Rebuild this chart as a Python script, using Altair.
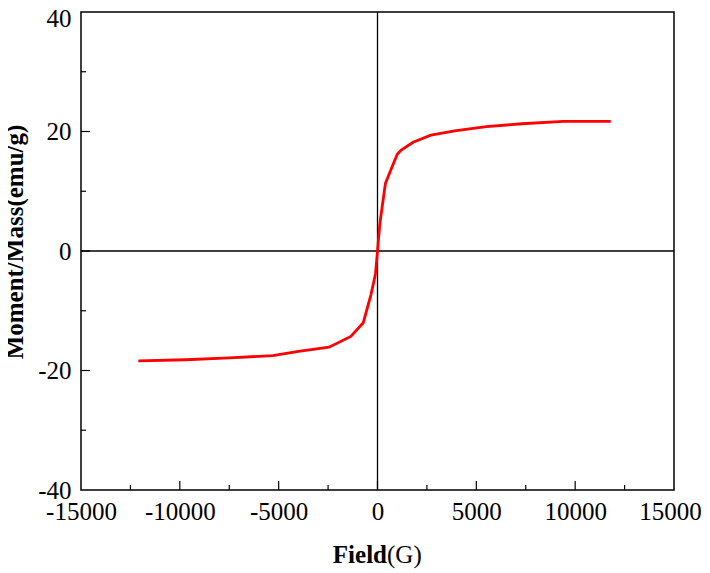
import altair as alt
import pandas as pd

# Data
field = [-12100, -9700, -7500, -5300, -4000, -2450, -1350, -720, -330, -100,
         0, 120, 400, 750, 1000, 1200, 1800, 2700, 3900, 5500, 7300, 9400, 11800]
moment = [-18.4, -18.2, -17.9, -17.5, -16.8, -16.1, -14.3, -12.0, -7.3, -3.8,
          0.0, 4.6, 11.3, 14.2, 16.2, 16.9, 18.2, 19.4, 20.1, 20.8, 21.3, 21.7, 21.7]

x_labels = [-15000, -10000, -5000, 0, 5000, 10000, 15000]
y_labels = [-40, -20, 0, 20, 40]
x_major_ticks = [-10000, -5000, 0, 5000, 10000]
x_minor_ticks = [-12500, -7500, -2500, 2500, 7500, 12500]
y_major_ticks = [-20, 0, 20]
y_minor_ticks = [-30, -10, 10, 30]

W, H = 593, 478
FONT = "Liberation Serif"

xs = alt.Scale(domain=[-15000, 15000], nice=False, zero=False)
ys = alt.Scale(domain=[-40, 40], nice=False, zero=False)

df = pd.DataFrame({"field": field, "moment": moment})

LBL = "datum.value < 0 ? '-' + abs(datum.value) : '' + datum.value"

base_x_axis = alt.Axis(values=x_labels, ticks=False, domain=False, grid=False,
                       labelFont=FONT, labelFontSize=25, labelColor="black",
                       labelPadding=9, title=None, labelExpr=LBL, labelFlush=False,
                       labelOverlap=False,
                       labelOffset={"condition": {"test": "datum.value == 15000", "value": -4},
                                    "value": 0})
base_y_axis = alt.Axis(values=y_labels, ticks=False, domain=False, grid=False,
                       labelFont=FONT, labelFontSize=25, labelColor="black",
                       labelPadding=10, title=None, labelExpr=LBL, labelOverlap=False,
                       labelOffset={"condition": {"test": "datum.value == 40", "value": 6},
                                    "value": 0})

line = alt.Chart(df).mark_line(color="#ff0000", strokeWidth=2.8).encode(
    x=alt.X("field:Q", scale=xs, axis=base_x_axis),
    y=alt.Y("moment:Q", scale=ys, axis=base_y_axis),
)

zero_v = alt.Chart(pd.DataFrame({"v": [0]})).mark_rule(color="black", strokeWidth=1.3).encode(
    x=alt.X("v:Q", scale=xs), y=alt.value(0), y2=alt.value(H))
zero_h = alt.Chart(pd.DataFrame({"v": [0]})).mark_rule(color="black", strokeWidth=1.3).encode(
    y=alt.Y("v:Q", scale=ys), x=alt.value(0), x2=alt.value(W))

xmaj = alt.Chart(pd.DataFrame({"v": x_major_ticks})).mark_rule(color="black", strokeWidth=1.2).encode(
    x=alt.X("v:Q", scale=xs), y=alt.value(H), y2=alt.value(H - 9))
xmin = alt.Chart(pd.DataFrame({"v": x_minor_ticks})).mark_rule(color="black", strokeWidth=1.2).encode(
    x=alt.X("v:Q", scale=xs), y=alt.value(H), y2=alt.value(H - 5))
ymaj = alt.Chart(pd.DataFrame({"v": y_major_ticks})).mark_rule(color="black", strokeWidth=1.2).encode(
    y=alt.Y("v:Q", scale=ys), x=alt.value(0), x2=alt.value(9))
ymin = alt.Chart(pd.DataFrame({"v": y_minor_ticks})).mark_rule(color="black", strokeWidth=1.2).encode(
    y=alt.Y("v:Q", scale=ys), x=alt.value(0), x2=alt.value(5))

title_df = pd.DataFrame({"t": [0]})
xt1 = alt.Chart(title_df).mark_text(text="Field", font=FONT, fontSize=25, fontWeight="bold",
                                    align="right", baseline="alphabetic", color="black").encode(
    x=alt.value(306), y=alt.value(551))
xt2 = alt.Chart(title_df).mark_text(text="(G)", font=FONT, fontSize=25, fontWeight="normal",
                                    align="left", baseline="alphabetic", color="black").encode(
    x=alt.value(306), y=alt.value(551))
yt = alt.Chart(title_df).mark_text(text="Moment/Mass(emu/g)", font=FONT, fontSize=25,
                                   fontWeight="bold", align="center", baseline="middle",
                                   angle=270, color="black").encode(
    x=alt.value(-66), y=alt.value(230))

chart = alt.layer(zero_v, zero_h, xmaj, xmin, ymaj, ymin, line, xt1, xt2, yt).properties(
    width=W, height=H,
    autosize=alt.AutoSizeParams(type="none"),
    padding={"left": 73, "top": 4, "right": 28, "bottom": 80},
    background="white",
).configure_view(stroke="#000000", strokeWidth=1.5, strokeOpacity=1)

chart.save("out.html", embed_options={"renderer": "svg", "actions": False})
